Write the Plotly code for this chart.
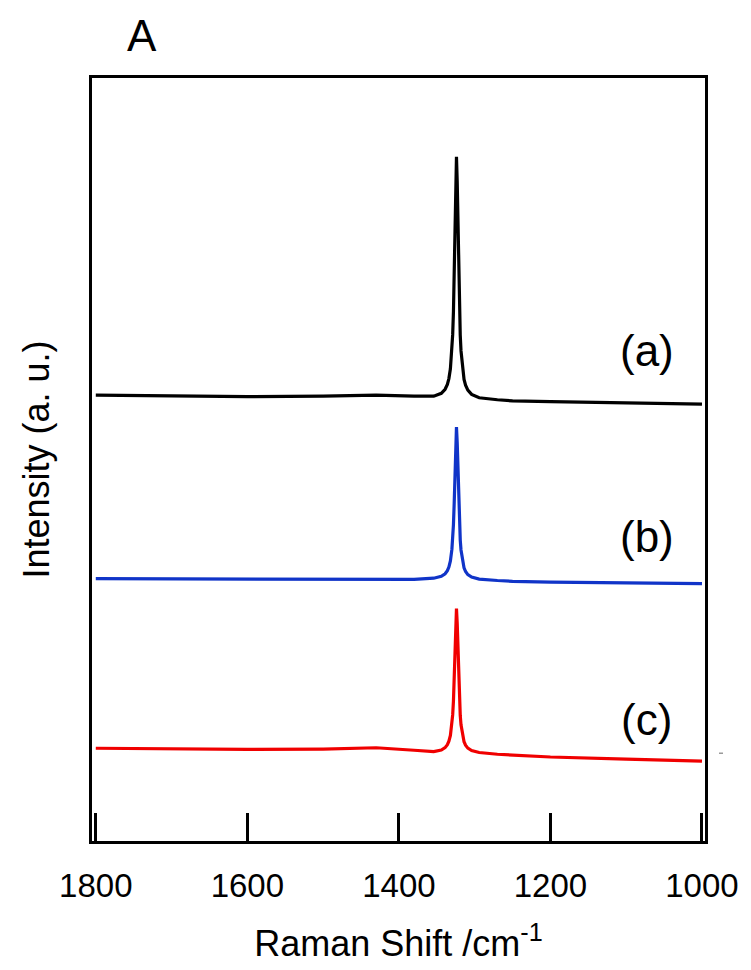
import plotly.graph_objects as go

# Raman shift (cm^-1), reversed axis 1800 -> 1000
shift = [1800, 1700, 1600, 1500, 1430, 1380, 1354, 1344, 1339, 1336, 1334, 1332,
         1330, 1329, 1328, 1327, 1326, 1325, 1324, 1323, 1322, 1321, 1320, 1319,
         1318, 1316, 1314, 1312, 1309, 1304, 1294, 1270, 1250, 1200, 1100, 1000]

# Intensities (a. u.), stacked with offsets as in the figure
int_a = [447, 446.5, 445.5, 446, 447, 446, 446, 448.9, 452.9, 457.8, 463.6, 473.4,
         492, 507.7, 530.7, 564.6, 611.1, 661.4, 686, 660.8, 610.5, 564, 530.1, 507.1,
         491.4, 472.8, 462.8, 457, 452, 447.8, 444.4, 442.4, 441.3, 440.5, 439.3, 438]
int_b = [263, 263, 262.5, 262.5, 262.5, 262.3, 263.5, 265.4, 267.9, 271, 274.6, 280.8,
         292.6, 302.5, 317.1, 338.5, 367.9, 399.7, 415, 398.9, 367.1, 337.7, 316.3, 301.7,
         291.8, 280, 273.8, 270.2, 267.1, 264.6, 262.6, 261.2, 260.4, 259.6, 258.8, 258]
int_c = [93, 92.5, 91.8, 92.2, 93.5, 91, 89.6, 91.2, 93.6, 96.5, 100, 105.8,
         117, 126.4, 140.2, 160.5, 188.3, 218.5, 233, 218, 187.8, 160, 139.7, 125.9,
         116.5, 105.3, 99.5, 96, 93.1, 90.7, 88.7, 87, 86, 84.2, 82, 80]

series_names = ["(a)", "(b)", "(c)"]
series_vals = [int_a, int_b, int_c]
series_colors = ["#000000", "#1034c8", "#f00000"]
label_y = [492, 305, 122]

tick_vals = [1800, 1600, 1400, 1200, 1000]
tick_text = ["1800", "1600", "1400", "1200", "1000"]

FONT = "Liberation Sans, Arial, sans-serif"

fig = go.Figure()
for name, vals, col in zip(series_names, series_vals, series_colors):
    fig.add_trace(go.Scatter(x=shift, y=vals, mode="lines", name=name,
                             line=dict(color=col, width=3.2),
                             showlegend=False))

for name, ly in zip(series_names, label_y):
    fig.add_annotation(x=1073, y=ly, text=name, showarrow=False,
                       font=dict(family=FONT, size=44, color="#000000"),
                       xanchor="center", yanchor="middle")

fig.add_annotation(xref="paper", yref="paper", x=0.0816, y=1.0, yshift=43,
                   text="A", showarrow=False,
                   font=dict(family=FONT, size=44, color="#000000"),
                   xanchor="center", yanchor="middle")

# small grey dash marks outside the right frame (as in the source image)
for x0, x1 in [(1.0228, 1.0294), (1.0653, 1.0734)]:
    fig.add_shape(type="line", xref="paper", yref="y", x0=x0, x1=x1, y0=88, y1=88,
                  line=dict(color="#9a9a9a", width=1.5))

fig.update_layout(
    width=743, height=962,
    margin=dict(l=84, r=46, t=70, b=127),
    paper_bgcolor="white", plot_bgcolor="white",
    xaxis=dict(range=[1805, 996], tickmode="array", tickvals=tick_vals, ticktext=tick_text,
               ticks="inside", ticklen=28, tickwidth=2.5, tickcolor="#000000",
               showline=True, linewidth=2.5, linecolor="#000000", mirror=True,
               showgrid=False, zeroline=False, ticklabelstandoff=14,
               tickfont=dict(family=FONT, size=33, color="#000000"),
               title=dict(text="Raman Shift /cm<sup>-1</sup>", standoff=28,
                          font=dict(family=FONT, size=36, color="#000000"))),
    yaxis=dict(range=[0, 765], showticklabels=False, ticks="",
               showline=True, linewidth=2.5, linecolor="#000000", mirror=True,
               showgrid=False, zeroline=False,
               title=dict(text="Intensity (a. u.)", standoff=29,
                          font=dict(family=FONT, size=36, color="#000000"))),
)

fig.write_html("out.html")
